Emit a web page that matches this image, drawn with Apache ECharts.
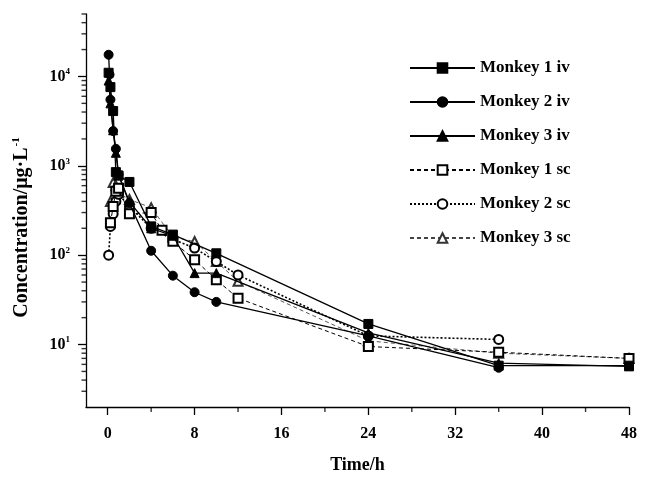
<!DOCTYPE html>
<html>
<head>
<meta charset="utf-8">
<script src="https://cdn.jsdelivr.net/npm/echarts@6/dist/echarts.min.js"></script>
<style>
html,body{margin:0;padding:0;background:#fff;}
#chart{width:650px;height:479px;}
</style>
</head>
<body>
<div id="chart"></div>
<script>
// ---- data (time in h, concentration in ug/L) ----
const seriesNames = ['Monkey 1 iv','Monkey 2 iv','Monkey 3 iv','Monkey 1 sc','Monkey 2 sc','Monkey 3 sc'];

const tIv1 = [0.083, 0.25, 0.5, 0.75, 1, 2, 4, 6, 10, 24, 36, 48];
const cIv1 = [11000, 7600, 4100, 850, 780, 660, 210, 170, 105, 17, 5.8, 5.8];

const tIv2 = [0.083, 0.167, 0.25, 0.5, 0.75, 1, 2, 4, 6, 8, 10, 24, 36];
const cIv2 = [17500, 10500, 5500, 2450, 1550, 800, 380, 112, 59, 38.5, 30, 12.5, 5.5];

const tIv3 = [0.083, 0.25, 0.5, 0.75, 1, 2, 4, 6, 8, 10, 24, 36, 48];
const cIv3 = [9000, 5000, 2500, 1400, 780, 395, 200, 165, 63, 63, 13.5, 6.2, 5.7];

const tSc1 = [0.25, 0.5, 0.75, 1, 2, 4, 5, 6, 8, 10, 12, 24, 36, 48];
const cSc1 = [230, 350, 520, 560, 290, 300, 190, 143, 89, 53, 33, 9.5, 8.2, 7];

const tSc2 = [0.083, 0.25, 0.5, 0.75, 1, 2, 4, 6, 8, 10, 12, 24, 36];
const cSc2 = [100, 210, 290, 400, 480, 350, 200, 150, 120, 85, 60, 12.5, 11.4];

const tSc3 = [0.25, 0.5, 0.75, 1, 2, 4, 6, 8, 10, 12, 24, 36, 48];
const cSc3 = [400, 650, 600, 500, 420, 340, 160, 142, 85, 51, 11, 8, 7];

// ---- axis ticks ----
const xMin = -2, xMax = 48, yMin = 2, yMax = 50000;
const xMajorTicks = [0, 8, 16, 24, 32, 40, 48];
const xMinorTicks = [4, 12, 20, 28, 36, 44];
const yMajorTicks = [10, 100, 1000, 10000];
const yMinorTicks = [3, 4, 5, 6, 7, 8, 9, 20, 30, 40, 50, 60, 70, 80, 90,
  200, 300, 400, 500, 600, 700, 800, 900, 2000, 3000, 4000, 5000, 6000, 7000, 8000, 9000,
  20000, 30000, 40000, 50000];
const yExponents = {10: '1', 100: '2', 1000: '3', 10000: '4'};

const FONT = '"Liberation Serif", "Times New Roman", serif';

function pairs(t, c){ return t.map((v, i) => [v, c[i]]); }

const styles = [
  {symbol:'rect', fill:'#000', line:{type:'solid', width:1.3, color:'#000'}},
  {symbol:'circle', fill:'#000', line:{type:'solid', width:1.3, color:'#000'}},
  {symbol:'triangle', fill:'#000', line:{type:'solid', width:1.3, color:'#000'}},
  {symbol:'emptyRect', fill:'#000', line:{type:[4,3], width:1, color:'#000'}},
  {symbol:'emptyCircle', fill:'#000', line:{type:[2,2], width:1.6, color:'#000'}},
  {symbol:'emptyTriangle', fill:'#333', line:{type:[4,3], width:0.9, color:'#444'}}
];
const dataSets = [pairs(tIv1,cIv1), pairs(tIv2,cIv2), pairs(tIv3,cIv3), pairs(tSc1,cSc1), pairs(tSc2,cSc2), pairs(tSc3,cSc3)];

const series = seriesNames.map((n, i) => ({
  name: n,
  type: 'line',
  data: dataSets[i],
  symbol: styles[i].symbol,
  symbolSize: 9,
  showAllSymbol: true,
  itemStyle: {color: styles[i].fill, borderColor: styles[i].line.color, borderWidth: 1},
  lineStyle: styles[i].line,
  z: 10 - i,
  animation: false
}));

// minor ticks, positioned through the axes' own scales
series.push({
  name: 'yMinorTicks', type: 'scatter', silent: true, clip: false, z: 20,
  symbol: 'rect', symbolSize: [4.5, 1.4], symbolOffset: [-2.25, 0],
  itemStyle: {color: '#000'},
  data: yMinorTicks.map(v => [xMin, v]), animation: false
});
series.push({
  name: 'xMinorTicks', type: 'scatter', silent: true, clip: false, z: 20,
  symbol: 'rect', symbolSize: [1.4, 5], symbolOffset: [0, 2.5],
  itemStyle: {color: '#000'},
  data: xMinorTicks.map(v => [v, yMin]), animation: false
});

const chart = echarts.init(document.getElementById('chart'), null, {renderer: 'canvas'});
const tickLabelStyle = {fontFamily: FONT, fontWeight: 'bold', fontSize: 16, color: '#000'};

chart.setOption({
  animation: false,
  backgroundColor: '#fff',
  grid: {left: 86, right: 21, top: 14, bottom: 69, containLabel: false},
  legend: {
    data: seriesNames,
    orient: 'vertical',
    left: 404, top: 53,
    itemWidth: 65, itemHeight: 12,
    itemGap: 14,
    textStyle: {fontFamily: FONT, fontWeight: 'bold', fontSize: 17, color: '#000', lineHeight: 20}
  },
  xAxis: {
    type: 'value', min: xMin, max: xMax,
    name: 'Time/h', nameLocation: 'middle', nameGap: 49,
    nameTextStyle: {fontFamily: FONT, fontWeight: 'bold', fontSize: 18, color: '#000'},
    axisLine: {show: true, onZero: false, lineStyle: {color: '#000', width: 1.3}},
    axisTick: {show: true, inside: false, length: 8, customValues: xMajorTicks, lineStyle: {color: '#000', width: 1.3}},
    axisLabel: {customValues: xMajorTicks, margin: 19, ...tickLabelStyle},
    splitLine: {show: false}
  },
  yAxis: {
    type: 'log', logBase: 10, min: yMin, max: yMax,
    name: '{a|Concentration/μg·L}{s|-1}', nameLocation: 'middle', nameGap: 54, nameRotate: 90,
    nameTextStyle: {
      fontFamily: FONT, fontWeight: 'bold', fontSize: 20, color: '#000', padding: [0, 34, 0, 0],
      rich: {
        a: {fontFamily: FONT, fontWeight: 'bold', fontSize: 20, color: '#000'},
        s: {fontFamily: FONT, fontWeight: 'bold', fontSize: 11, color: '#000', padding: [0, 0, 10, 1]}
      }
    },
    axisLine: {show: true, onZero: false, lineStyle: {color: '#000', width: 1.3}},
    axisTick: {show: true, inside: false, length: 8, customValues: yMajorTicks, lineStyle: {color: '#000', width: 1.3}},
    axisLabel: {
      customValues: yMajorTicks, margin: 16,
      formatter: function (v) {
        const k = Math.round(Math.log10(v));
        const e = yExponents[Math.pow(10, k)];
        return e ? '{b|10}{s|' + e + '}' : '';
      },
      rich: {
        b: {fontFamily: FONT, fontWeight: 'bold', fontSize: 16, color: '#000'},
        s: {fontFamily: FONT, fontWeight: 'bold', fontSize: 9, color: '#000', padding: [0, 0, 9, 0]}
      }
    },
    splitLine: {show: false}
  },
  series: series
});
</script>
</body>
</html>
